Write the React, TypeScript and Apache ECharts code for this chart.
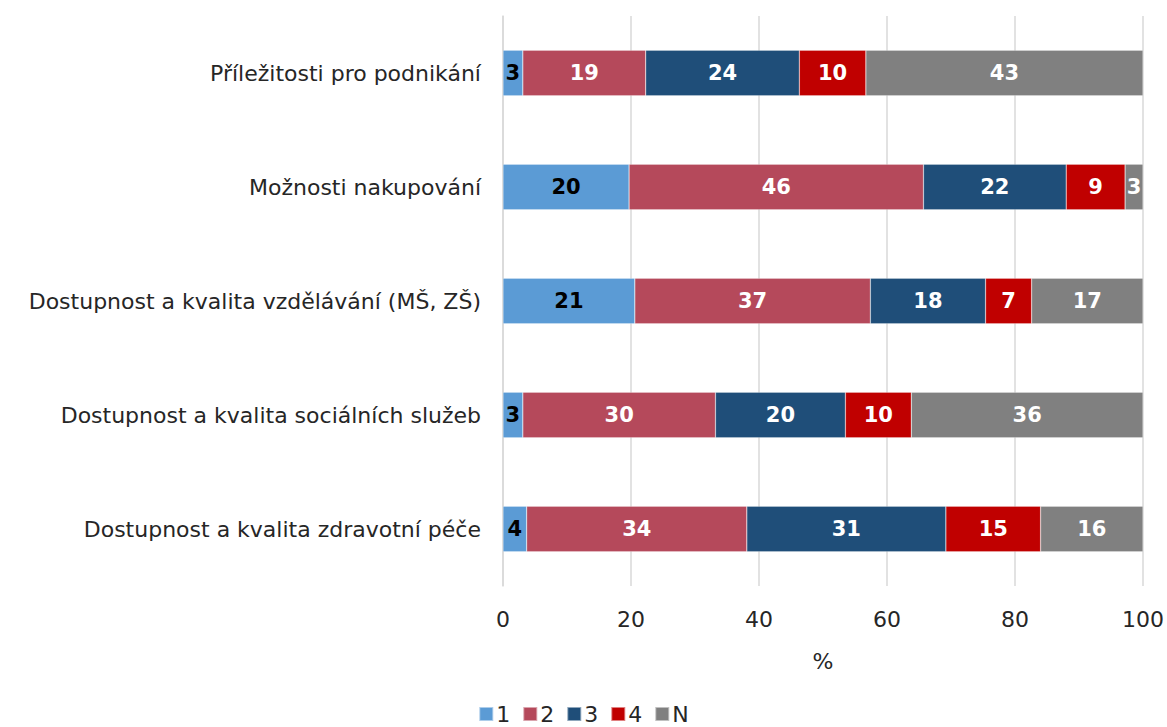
import React, { useEffect, useRef } from "react";
import * as echarts from "echarts";

const categories = [
  "Příležitosti pro podnikání",
  "Možnosti nakupování",
  "Dostupnost a kvalita vzdělávání (MŠ, ZŠ)",
  "Dostupnost a kvalita sociálních služeb",
  "Dostupnost a kvalita zdravotní péče",
];
const seriesNames = ["1", "2", "3", "4", "N"];
const s1 = [3.1, 19.7, 20.6, 3.1, 3.7];
const s2 = [19.2, 46.0, 36.8, 30.1, 34.4];
const s3 = [24.0, 22.3, 18.0, 20.3, 31.1];
const s4 = [10.4, 9.2, 7.2, 10.3, 14.8];
const sN = [43.3, 2.8, 17.4, 36.2, 16.0];
const colors = ["#5B9BD5", "#B5495B", "#1F4E79", "#C00000", "#808080"];
const labelColors = ["#000000", "#FFFFFF", "#FFFFFF", "#FFFFFF", "#FFFFFF"];
const xTicks = [0, 20, 40, 60, 80, 100];

const FONT = "'DejaVu Sans', sans-serif";

export default function App() {
  const ref = useRef<HTMLDivElement>(null);
  useEffect(() => {
    if (!ref.current) return;
    const chart = echarts.init(ref.current, null, { renderer: "svg" });
    const data = [s1, s2, s3, s4, sN];
    chart.setOption({
      animation: false,
      textStyle: { fontFamily: FONT },
      legend: {
        bottom: -3,
        left: "center",
        itemWidth: 14,
        itemHeight: 14,
        itemGap: 12,
        icon: "rect",
        textStyle: { fontSize: 22, color: "#262626", fontFamily: FONT, padding: [0, 0, 0, -2] },
        data: seriesNames,
      },
      grid: { left: 503, right: 23, top: 16, height: 570 },
      xAxis: {
        type: "value",
        min: 0,
        max: 100,
        interval: 20,
        name: "%",
        nameLocation: "middle",
        nameGap: 64,
        nameTextStyle: { fontSize: 22, color: "#262626", fontFamily: FONT },
        axisLine: { show: false },
        axisTick: { show: false },
        axisLabel: {
          fontSize: 22,
          color: "#262626",
          margin: 22,
          fontFamily: FONT,
          formatter: (v: number) => (xTicks.includes(v) ? String(v) : ""),
        },
        splitLine: { show: true, lineStyle: { color: "#D9D9D9", width: 1.5 } },
      },
      yAxis: {
        type: "category",
        inverse: true,
        data: categories,
        axisLine: { show: true, lineStyle: { color: "#D9D9D9", width: 1.5 } },
        axisTick: { show: false },
        axisLabel: { fontSize: 22, color: "#262626", margin: 22, fontFamily: FONT },
      },
      series: seriesNames.map((name, i) => ({
        name,
        type: "bar",
        stack: "total",
        barWidth: "40%",
        data: data[i],
        itemStyle: { color: colors[i], borderColor: "rgba(255,255,255,0.5)", borderWidth: 0.5 },
        label: {
          show: true,
          position: "inside",
          color: labelColors[i],
          fontWeight: "bold",
          fontSize: 21,
          fontFamily: FONT,
          formatter: (p: any) => String(Math.round(p.value)),
        },
      })),
    });
    return () => chart.dispose();
  }, []);
  return <div ref={ref} style={{ width: 1167, height: 727, position: "absolute", left: 0, top: 0 }} />;
}
